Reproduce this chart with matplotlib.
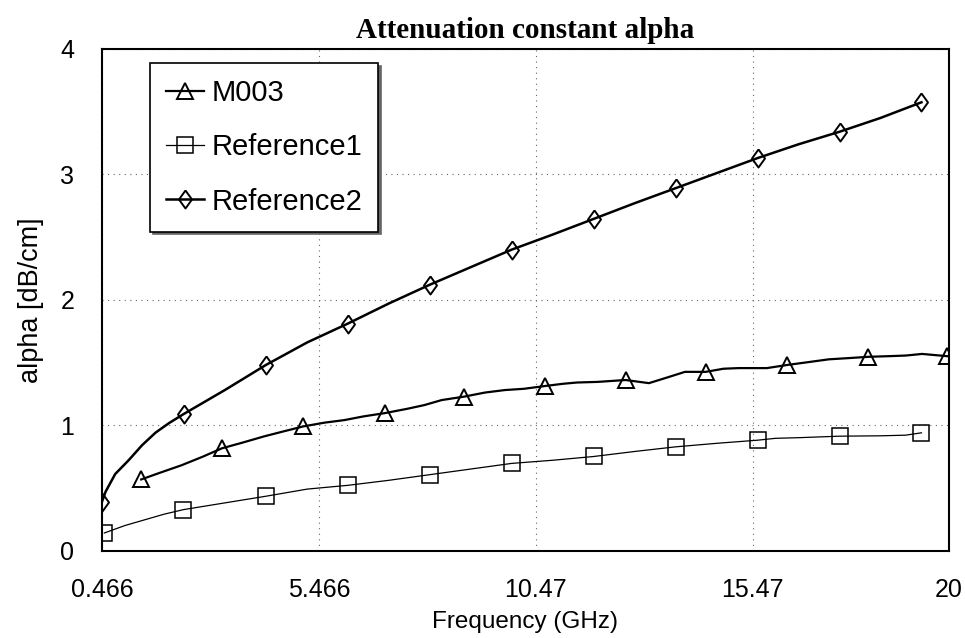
import matplotlib.pyplot as plt

# values
m003_freq = [1.37, 1.8, 2.3, 2.8, 3.23, 3.7, 4.2, 4.65, 5.11, 5.6, 6.05, 6.5, 6.99,
             7.5, 7.9, 8.3, 8.81, 9.3, 9.76, 10.2, 10.68, 11.1, 11.42, 11.9, 12.54,
             13.08, 13.5, 13.91, 14.39, 14.8, 15.15, 15.8, 16.27, 16.7, 17.23, 17.7,
             18.14, 18.6, 19.0, 19.38, 19.96]
m003_alpha = [0.567, 0.62, 0.68, 0.75, 0.815, 0.86, 0.91, 0.95, 0.99, 1.02, 1.04, 1.07, 1.096,
              1.13, 1.16, 1.20, 1.227, 1.26, 1.28, 1.29, 1.312, 1.33, 1.34, 1.345, 1.36,
              1.335, 1.38, 1.425, 1.425, 1.45, 1.455, 1.455, 1.48, 1.50, 1.525, 1.535,
              1.545, 1.55, 1.555, 1.568, 1.55]
m003_marks = [0, 4, 8, 12, 16, 20, 24, 28, 32, 36, 40]

ref1_freq = [0.52, 1.0, 1.4, 1.9, 2.34, 3.3, 4.246, 5.2, 6.136, 7.08, 8.026, 8.97, 9.916,
             10.86, 11.806, 12.75, 13.696, 14.64, 15.586, 16.0, 16.53, 17.476, 18.42,
             19.0, 19.366]
ref1_alpha = [0.14, 0.20, 0.24, 0.29, 0.326, 0.38, 0.433, 0.49, 0.52, 0.56, 0.605, 0.65, 0.695,
              0.72, 0.75, 0.79, 0.827, 0.855, 0.88, 0.895, 0.90, 0.912, 0.915, 0.92, 0.939]
ref1_marks = [0, 4, 6, 8, 10, 12, 14, 16, 18, 21, 24]

ref2_freq = [0.466, 0.55, 0.77, 1.08, 1.39, 1.70, 2.01, 2.356, 3.3, 4.246, 5.2, 6.136, 7.08,
             8.026, 8.97, 9.916, 10.86, 11.806, 12.75, 13.696, 14.64, 15.586, 16.53,
             17.476, 18.42, 19.366]
ref2_alpha = [0.39, 0.47, 0.61, 0.72, 0.84, 0.94, 1.016, 1.09, 1.28, 1.48, 1.66, 1.81, 1.97,
              2.12, 2.26, 2.40, 2.52, 2.645, 2.77, 2.89, 3.01, 3.13, 3.24, 3.34, 3.45, 3.575]
ref2_marks = [0, 7, 9, 11, 13, 15, 17, 19, 21, 23, 25]

xticks = [0.466, 5.466, 10.47, 15.47, 20]
xtick_labels = ["0.466", "5.466", "10.47", "15.47", "20"]
yticks = [0, 1, 2, 3, 4]

# slightly tall diamond, like the excel marker
diamond = [(0, 1), (0.72, 0), (0, -1), (-0.72, 0), (0, 1)]

plt.rcParams["font.family"] = ["Liberation Sans", "DejaVu Sans"]

fig = plt.figure(figsize=(9.65, 6.38), dpi=100)
ax = fig.add_axes([0.1057, 0.1371, 0.8777, 0.7861])

ax.plot(m003_freq, m003_alpha, color="black", lw=1.6, marker="^", ms=11,
        mfc="none", mec="black", mew=1.4, markevery=m003_marks, label="M003")
ax.plot(ref1_freq, ref1_alpha, color="black", lw=0.9, marker="s", ms=11,
        mfc="none", mec="black", mew=1.1, markevery=ref1_marks, label="Reference1")
ax.plot(ref2_freq, ref2_alpha, color="black", lw=1.8, marker=diamond, ms=13,
        mfc="none", mec="black", mew=1.4, markevery=ref2_marks, label="Reference2")

ax.set_xlim(0.466, 20)
ax.set_ylim(0, 4)
ax.set_xticks(xticks)
ax.set_xticklabels(xtick_labels)
ax.set_yticks(yticks)
ax.tick_params(length=0, labelsize=18, pad=20)

ax.grid(True, color="0.4", lw=0.8, linestyle=(0, (1, 4)))
for s in ax.spines.values():
    s.set_linewidth(1.5)
    s.set_color("black")

ax.set_xlabel("Frequency (GHz)", fontsize=17.5, labelpad=6)
ax.set_ylabel("alpha [dB/cm]", fontsize=19.5, labelpad=12)
ax.set_title("Attenuation constant alpha", fontsize=21, fontweight="bold",
             family="Liberation Serif", pad=8)

leg = ax.legend(loc="upper left", bbox_to_anchor=(0.0567, 0.972), borderaxespad=0,
                fontsize=21, frameon=True, fancybox=False, edgecolor="black",
                handlelength=1.3, handletextpad=0.25, labelspacing=0.9,
                borderpad=0.55, shadow={"color": "0.4", "alpha": 1})
leg.get_frame().set_linewidth(1.2)

fig.savefig("out.png", dpi=100)
